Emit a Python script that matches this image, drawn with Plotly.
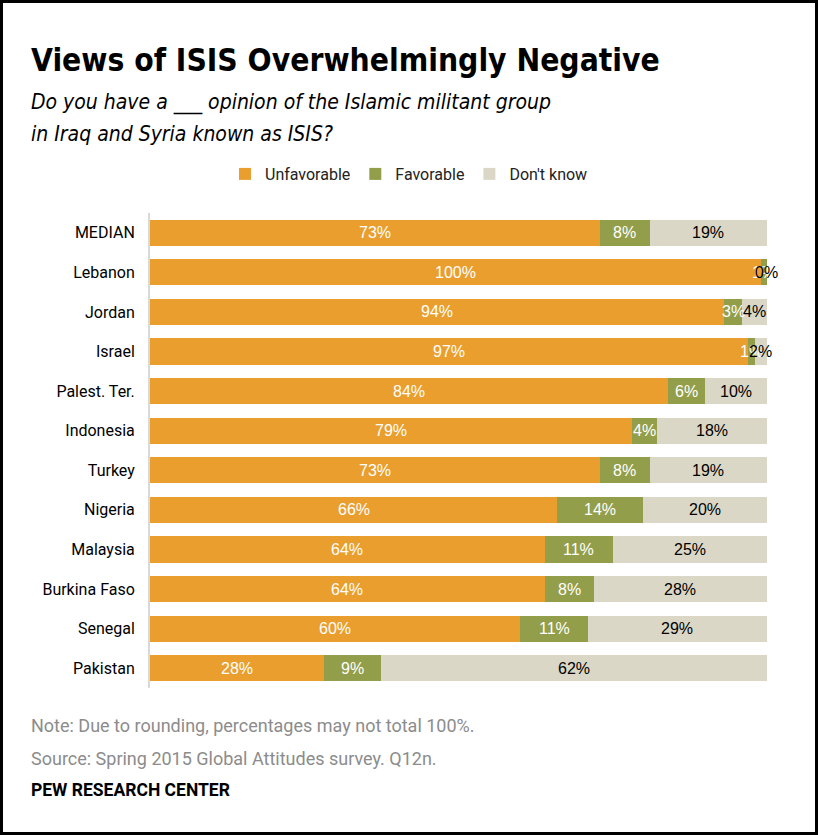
import plotly.graph_objects as go

countries = ["MEDIAN", "Lebanon", "Jordan", "Israel", "Palest. Ter.", "Indonesia",
             "Turkey", "Nigeria", "Malaysia", "Burkina Faso", "Senegal", "Pakistan"]
unfavorable = [73, 100, 94, 97, 84, 79, 73, 66, 64, 64, 60, 28]
favorable = [8, 1, 3, 1, 6, 4, 8, 14, 11, 8, 11, 9]
dont_know = [19, 0, 4, 2, 10, 18, 19, 20, 25, 28, 29, 62]

series = [
    ("Unfavorable", unfavorable, "#E99E2E", "white"),
    ("Favorable", favorable, "#939E4A", "white"),
    ("Don't know", dont_know, "#DAD7C6", "black"),
]

W, H = 818, 835
L, R, T, B = 150, 45, 213, 147
XMAX = 101
PW, PH = W - L - R, H - T - B

fig = go.Figure()
for name, vals, color, _ in series:
    fig.add_trace(go.Bar(
        y=countries, x=vals, name=name, orientation="h",
        marker=dict(color=color, line=dict(width=0)),
        hoverinfo="x+y",
    ))

# labels centred in each (100%-normalised) segment
totals = [a + b + c for a, b, c in zip(unfavorable, favorable, dont_know)]
annotations = []
base = [0] * len(countries)
for name, vals, color, tcolor in series:
    for i, v in enumerate(vals):
        annotations.append(dict(
            x=(base[i] + v / 2) / totals[i] * 100, y=countries[i], xref="x", yref="y",
            text=f"{v}%", showarrow=False,
            font=dict(family="Liberation Sans, Arial", size=16, color=tcolor),
        ))
        base[i] += v


def px_ann(text, x, y, font):
    # position given in page pixels, converted to plot-area paper coordinates
    return dict(text=text, x=(x - L) / PW, y=1 - (y - T) / PH,
                xref="paper", yref="paper", xanchor="left", yanchor="middle",
                showarrow=False, font=font)


title_font = "DejaVu Sans Condensed, sans-serif"
annotations += [
    px_ann("<b>Views of ISIS Overwhelmingly Negative</b>", 29, 60,
           dict(family=title_font, size=31.5, color="black")),
    px_ann("<i>Do you have a ___ opinion of the Islamic militant group</i>", 29, 102,
           dict(family=title_font, size=21, color="black")),
    px_ann("<i>in Iraq and Syria known as ISIS?</i>", 29, 134,
           dict(family=title_font, size=21, color="black")),
    px_ann("Note: Due to rounding, percentages may not total 100%.", 29, 725,
           dict(family="Roboto, sans-serif", size=18, color="#8C8C8C")),
    px_ann("Source: Spring 2015 Global Attitudes survey. Q12n.", 29, 758,
           dict(family="Roboto, sans-serif", size=18, color="#8C8C8C")),
    px_ann("<b>PEW RESEARCH CENTER</b>", 29, 790,
           dict(family="Roboto, sans-serif", size=17.5, color="black")),
]

fig.update_layout(
    width=W, height=H,
    margin=dict(l=L, r=R, t=T, b=B),
    barmode="stack", barnorm="percent", bargap=0.34,
    plot_bgcolor="white", paper_bgcolor="white",
    showlegend=True,
    legend=dict(orientation="h", x=0.5, xanchor="center", xref="container",
                y=(H - 174) / H, yref="container", yanchor="middle",
                font=dict(family="Roboto, sans-serif", size=16, color="#222"),
                traceorder="normal", itemwidth=30),
    xaxis=dict(range=[0, XMAX], visible=False, fixedrange=True),
    yaxis=dict(autorange="reversed", showline=True, linecolor="#D9D9D9", linewidth=2,
               ticks="", showgrid=False, ticklabelstandoff=10, fixedrange=True,
               tickfont=dict(family="Roboto, sans-serif", size=16, color="black")),
    annotations=annotations,
)

fig.add_shape(type="rect", xref="paper", yref="paper",
              x0=(1.5 - L) / PW, x1=(W - 1.5 - L) / PW,
              y0=1 - (H - 1.5 - T) / PH, y1=1 - (1.5 - T) / PH,
              line=dict(color="black", width=3), fillcolor="rgba(0,0,0,0)")

fig.write_html("out.html", config={"displayModeBar": False},
               post_script="document.body.style.margin='0';document.body.style.overflow='hidden';")
